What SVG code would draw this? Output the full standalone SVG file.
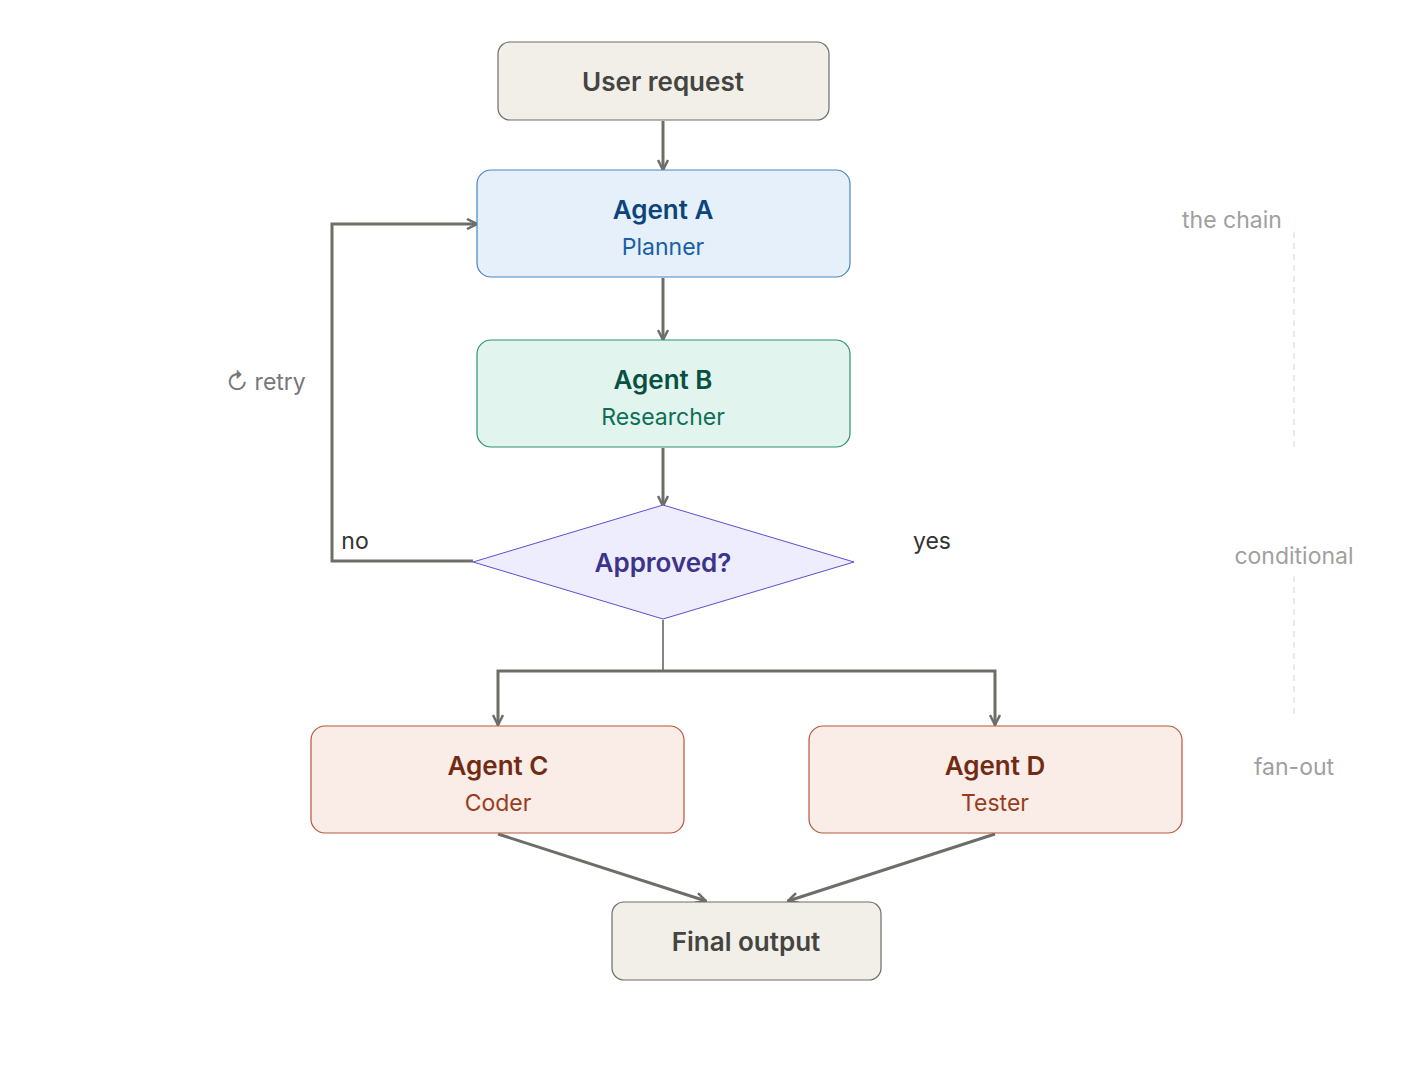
<svg xmlns="http://www.w3.org/2000/svg" width="1410" height="1078" viewBox="0 0 1410 1078">
<style>
text{font-family:Inter,"Noto Sans","Liberation Sans",sans-serif;text-anchor:middle}
.t{font-size:26px;font-weight:600}
.s{font-size:23px}
.c{fill:none;stroke:#6e6d68;stroke-width:3}
.lab{font-size:23px;fill:#333}
.side{font-size:23px;fill:#a0a0a0}
</style>
<defs>
<marker id="a" viewBox="0 0 12 12" refX="11" refY="6" markerWidth="12" markerHeight="12" markerUnits="userSpaceOnUse" orient="auto">
<polyline points="1,1 11,6 1,11" fill="none" stroke="#6e6d68" stroke-width="2.5"/>
</marker>
</defs>
<rect width="1410" height="1078" fill="#fff"/>
<g id="connectors">
<line class="c" x1="663" y1="121" x2="663" y2="170" marker-end="url(#a)"/>
<line class="c" x1="663" y1="278" x2="663" y2="340" marker-end="url(#a)"/>
<line class="c" x1="663" y1="448" x2="663" y2="506" marker-end="url(#a)"/>
<polyline class="c" points="473,561 332,561 332,224 477,224" marker-end="url(#a)"/>
<line x1="663" y1="620" x2="663" y2="671" stroke="#333" stroke-width="1.2"/>
<polyline class="c" points="663,671 498,671 498,725" marker-end="url(#a)"/>
<polyline class="c" points="663,671 995,671 995,725" marker-end="url(#a)"/>
<line class="c" x1="498" y1="834" x2="706" y2="901" marker-end="url(#a)"/>
<line class="c" x1="995" y1="834" x2="788" y2="901" marker-end="url(#a)"/>
<text class="lab" x="355" y="549">no</text>
<text class="lab" x="932" y="549">yes</text>
<text x="266" y="390" font-size="23" fill="#777">↻ retry</text>
</g>
<g id="user"><rect x="498" y="42" width="331" height="78" rx="12" fill="#f1efe8" stroke="#6e6d68" stroke-width="1.2"/><text class="t" x="663" y="91" fill="#444441">User request</text></g>
<g id="agentA"><rect x="477" y="170" width="373" height="107" rx="14" fill="#e5f0fa" stroke="#4a86c5" stroke-width="1.2"/><text class="t" x="663" y="219" fill="#0c447c">Agent A</text><text class="s" x="663" y="255" fill="#185fa5">Planner</text></g>
<g id="agentB"><rect x="477" y="340" width="373" height="107" rx="14" fill="#e1f5ee" stroke="#2f9072" stroke-width="1.2"/><text class="t" x="663" y="389" fill="#085041">Agent B</text><text class="s" x="663" y="425" fill="#0f6e56">Researcher</text></g>
<g id="approved"><polygon points="663,505 854,562 663,619 473,562" fill="#eeedfe" stroke="#5a4fcf" stroke-width="1"/><text class="t" x="663" y="572" fill="#3c3489">Approved?</text></g>
<g id="agentC"><rect x="311" y="726" width="373" height="107" rx="14" fill="#faece7" stroke="#b5583a" stroke-width="1.2"/><text class="t" x="498" y="775" fill="#712b13">Agent C</text><text class="s" x="498" y="811" fill="#993c1d">Coder</text></g>
<g id="agentD"><rect x="809" y="726" width="373" height="107" rx="14" fill="#faece7" stroke="#b5583a" stroke-width="1.2"/><text class="t" x="995" y="775" fill="#712b13">Agent D</text><text class="s" x="995" y="811" fill="#993c1d">Tester</text></g>
<g id="final"><rect x="612" y="902" width="269" height="78" rx="12" fill="#f1efe8" stroke="#6e6d68" stroke-width="1.2"/><text class="t" x="746" y="951" fill="#444441">Final output</text></g>
<g id="side">
<line x1="1294" y1="232" x2="1294" y2="450" stroke="#ddd" stroke-width="1.2" stroke-dasharray="6,5"/>
<line x1="1294" y1="576" x2="1294" y2="716" stroke="#ddd" stroke-width="1.2" stroke-dasharray="6,5"/>
<text class="side" x="1232" y="228">the chain</text>
<text class="side" x="1294" y="564">conditional</text>
<text class="side" x="1294" y="775">fan-out</text>
</g>
</svg>
